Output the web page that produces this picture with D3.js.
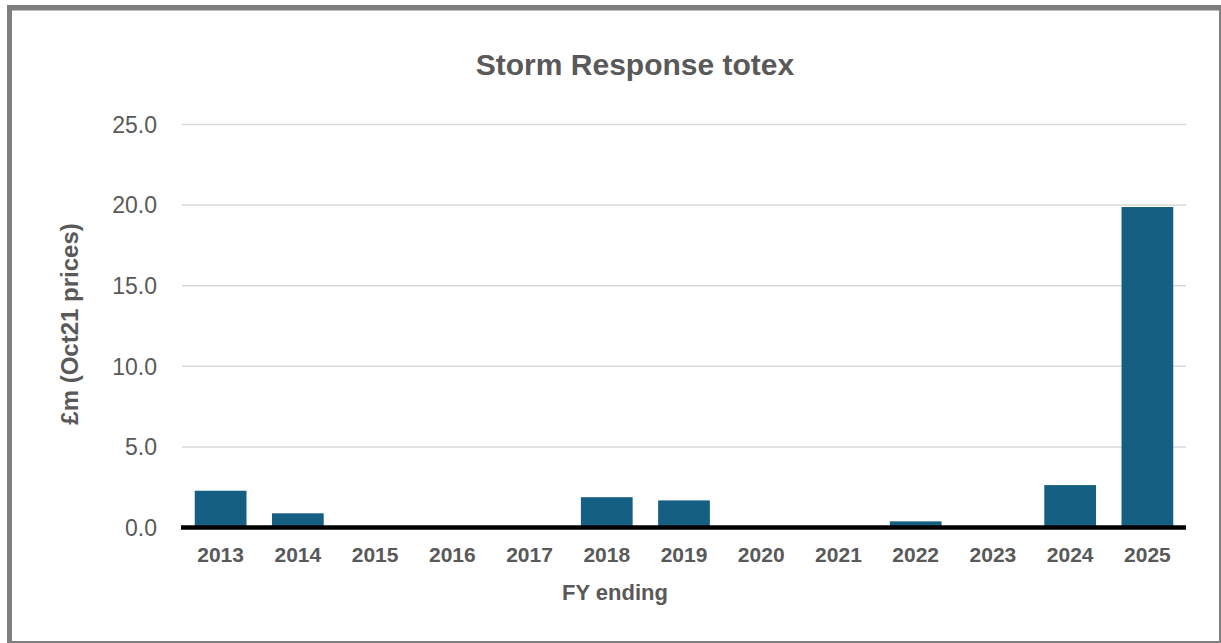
<!DOCTYPE html>
<html>
<head>
<meta charset="utf-8">
<script src="https://cdn.jsdelivr.net/npm/d3@7"></script>
<style>
  html, body { margin: 0; padding: 0; background: #ffffff; }
  svg { display: block; }
  text { font-family: "Liberation Sans", Arial, sans-serif; }
</style>
</head>
<body>
<svg id="chart" width="1221" height="643"></svg>
<script>
// Storm Response totex by financial year (£m, Oct21 prices)
const years = ["2013", "2014", "2015", "2016", "2017", "2018", "2019",
               "2020", "2021", "2022", "2023", "2024", "2025"];
const totex = [2.25, 0.85, 0, 0, 0, 1.85, 1.65, 0, 0, 0.35, 0, 2.6, 19.85];
const yTicks = [0, 5, 10, 15, 20, 25];

const titleText = "Storm Response totex";
const xTitle = "FY ending";
const yTitle = "£m (Oct21 prices)";

const W = 1221, H = 643;
const plot = { left: 182, right: 1186, top: 124, bottom: 527 };
const textGrey = "#595959";
const barColour = "#156082";

const svg = d3.select("#chart");

// frame: heavy grey edge on the left/top, thin on the right/bottom
svg.append("rect").attr("x", 7).attr("y", 5).attr("width", W - 7).attr("height", H - 5)
  .attr("fill", "#7f7f7f");
svg.append("rect").attr("x", 12).attr("y", 10.5).attr("width", 1219 - 12).attr("height", 641 - 10.5)
  .attr("fill", "#ffffff");

const x = d3.scaleBand().domain(years).range([plot.left, plot.right])
  .paddingInner(0.33).paddingOuter(0.165);
const y = d3.scaleLinear().domain([0, 25]).range([plot.bottom, plot.top]);

// horizontal gridlines + value labels
const yAxis = d3.axisLeft(y).tickValues(yTicks).tickFormat(d3.format(".1f"))
  .tickSize(-(plot.right - plot.left)).tickPadding(25);
const gy = svg.append("g").attr("transform", `translate(${plot.left},0)`).call(yAxis);
gy.select(".domain").remove();
gy.selectAll(".tick line").attr("stroke", "#d9d9d9").attr("stroke-width", 1.5);
gy.selectAll(".tick text").attr("fill", textGrey).attr("font-size", 23)
  .attr("dy", "0.36em");

// bars
svg.append("g").selectAll("rect").data(years.map((yr, i) => ({ yr, v: totex[i] })))
  .join("rect")
  .attr("x", d => x(d.yr))
  .attr("width", x.bandwidth())
  .attr("y", d => y(d.v))
  .attr("height", d => y(0) - y(d.v))
  .attr("fill", barColour);

// category axis with heavy zero line
const xAxis = d3.axisBottom(x).tickSize(0).tickPadding(20);
const gx = svg.append("g").attr("transform", `translate(0,${y(0)})`).call(xAxis);
gx.select(".domain").remove();
gx.selectAll(".tick text").attr("fill", textGrey).attr("font-size", 21)
  .attr("font-weight", "bold");
svg.append("line")
  .attr("x1", plot.left - 1).attr("x2", plot.right)
  .attr("y1", y(0) + 0.5).attr("y2", y(0) + 0.5)
  .attr("stroke", "#000000").attr("stroke-width", 4.5);

// titles
svg.append("text").attr("x", 635).attr("y", 75).attr("text-anchor", "middle")
  .attr("fill", textGrey).attr("font-size", 30).attr("font-weight", "bold")
  .text(titleText);

svg.append("text").attr("x", 615).attr("y", 600).attr("text-anchor", "middle")
  .attr("fill", textGrey).attr("font-size", 22).attr("font-weight", "bold")
  .text(xTitle);

svg.append("text").attr("transform", "translate(78,324) rotate(-90)")
  .attr("text-anchor", "middle")
  .attr("fill", textGrey).attr("font-size", 24).attr("font-weight", "bold")
  .text(yTitle);
</script>
</body>
</html>
